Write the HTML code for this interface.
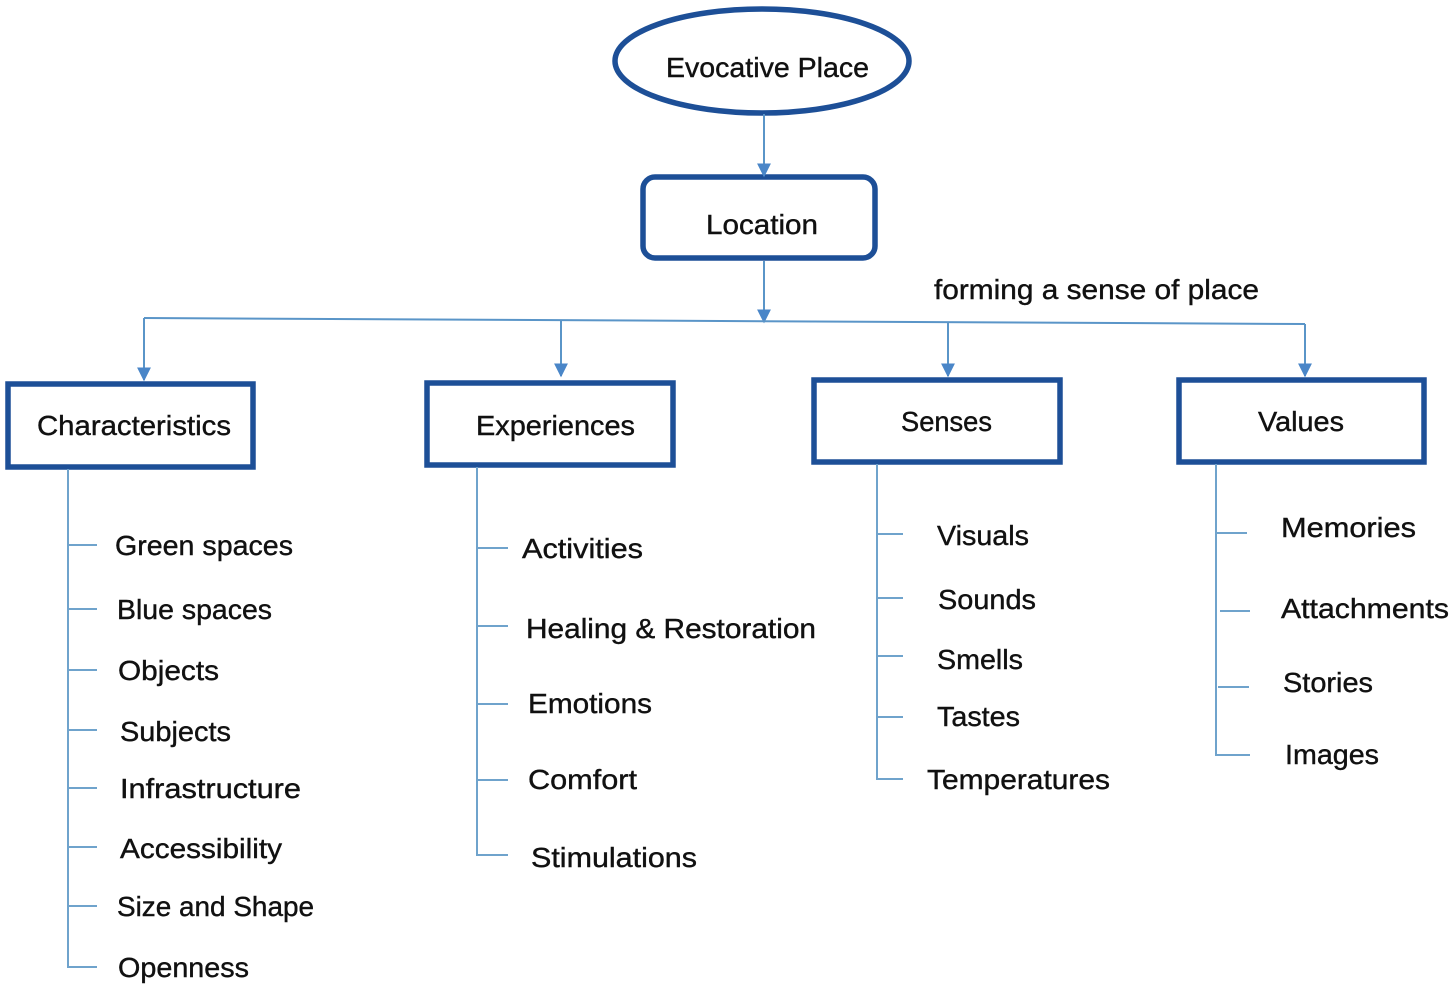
<!DOCTYPE html>
<html><head><meta charset="utf-8"><style>
html,body{margin:0;padding:0;background:#fff;}
svg{display:block;}
text{font-family:"Liberation Sans",sans-serif;font-size:28px;fill:#111;stroke:#111;stroke-width:0.4px;}
</style></head><body>
<svg width="1453" height="989" viewBox="0 0 1453 989" xmlns="http://www.w3.org/2000/svg">
<defs>
<marker id="a" viewBox="0 0 10 10" refX="9" refY="5" markerWidth="14" markerHeight="14" markerUnits="userSpaceOnUse" orient="auto"><path d="M0,0 L10,5 L0,10 z" fill="#4a86c8"/></marker>
</defs>
<g stroke="#1d4f97" stroke-width="5.5" fill="none">
<ellipse cx="762" cy="61" rx="147" ry="52"/>
<rect x="643" y="177" width="232" height="81" rx="12"/>
<rect x="8" y="384" width="245" height="83"/>
<rect x="427" y="383" width="246" height="82"/>
<rect x="814" y="380" width="246" height="82"/>
<rect x="1179" y="380" width="245" height="82"/>
</g>
<g stroke="#5a95c8" stroke-width="2" fill="none">
<line x1="764" y1="114" x2="764" y2="176" marker-end="url(#a)"/>
<line x1="764" y1="261" x2="764" y2="322" marker-end="url(#a)"/>
<polyline points="144,318 1305,324"/>
<line x1="144" y1="318" x2="144" y2="380" marker-end="url(#a)"/>
<line x1="561" y1="320" x2="561" y2="376" marker-end="url(#a)"/>
<line x1="948" y1="322" x2="948" y2="376" marker-end="url(#a)"/>
<line x1="1305" y1="324" x2="1305" y2="376" marker-end="url(#a)"/>
</g>
<g stroke="#6fa3cc" stroke-width="2" fill="none">
<polyline points="68,469 68,967 97,967"/>
<line x1="68" y1="545" x2="97" y2="545"/><line x1="68" y1="609" x2="97" y2="609"/>
<line x1="68" y1="670" x2="97" y2="670"/><line x1="68" y1="730" x2="97" y2="730"/>
<line x1="68" y1="788" x2="97" y2="788"/><line x1="68" y1="847" x2="97" y2="847"/>
<line x1="68" y1="906" x2="97" y2="906"/>
<polyline points="477,467 477,855 508,855"/>
<line x1="477" y1="548" x2="508" y2="548"/><line x1="477" y1="626" x2="508" y2="626"/>
<line x1="477" y1="704" x2="508" y2="704"/><line x1="477" y1="780" x2="508" y2="780"/>
<polyline points="877,464 877,779 903,779"/>
<line x1="877" y1="534" x2="903" y2="534"/><line x1="877" y1="598" x2="903" y2="598"/>
<line x1="877" y1="656" x2="903" y2="656"/><line x1="877" y1="717" x2="903" y2="717"/>
<polyline points="1216,464 1216,755 1250,755"/>
<line x1="1216" y1="533" x2="1247" y2="533"/><line x1="1220" y1="611" x2="1250" y2="611"/>
<line x1="1218" y1="687" x2="1249" y2="687"/>
</g>
<g>
<text x="666" y="77" textLength="203" lengthAdjust="spacingAndGlyphs">Evocative Place</text>
<text x="706" y="234" textLength="112" lengthAdjust="spacingAndGlyphs">Location</text>
<text x="934" y="299" textLength="325" lengthAdjust="spacingAndGlyphs">forming a sense of place</text>
<text x="37" y="435" textLength="194" lengthAdjust="spacingAndGlyphs">Characteristics</text>
<text x="476" y="435" textLength="159" lengthAdjust="spacingAndGlyphs">Experiences</text>
<text x="901" y="431" textLength="91" lengthAdjust="spacingAndGlyphs">Senses</text>
<text x="1258" y="431" textLength="86" lengthAdjust="spacingAndGlyphs">Values</text>
<text x="115" y="555" textLength="178" lengthAdjust="spacingAndGlyphs">Green spaces</text>
<text x="117" y="619" textLength="155" lengthAdjust="spacingAndGlyphs">Blue spaces</text>
<text x="118" y="680" textLength="101" lengthAdjust="spacingAndGlyphs">Objects</text>
<text x="120" y="741" textLength="111" lengthAdjust="spacingAndGlyphs">Subjects</text>
<text x="120" y="798" textLength="181" lengthAdjust="spacingAndGlyphs">Infrastructure</text>
<text x="120" y="858" textLength="162" lengthAdjust="spacingAndGlyphs">Accessibility</text>
<text x="117" y="916" textLength="197" lengthAdjust="spacingAndGlyphs">Size and Shape</text>
<text x="118" y="977" textLength="131" lengthAdjust="spacingAndGlyphs">Openness</text>
<text x="522" y="558" textLength="121" lengthAdjust="spacingAndGlyphs">Activities</text>
<text x="526" y="638" textLength="290" lengthAdjust="spacingAndGlyphs">Healing &amp; Restoration</text>
<text x="528" y="713" textLength="124" lengthAdjust="spacingAndGlyphs">Emotions</text>
<text x="528" y="789" textLength="109" lengthAdjust="spacingAndGlyphs">Comfort</text>
<text x="531" y="867" textLength="166" lengthAdjust="spacingAndGlyphs">Stimulations</text>
<text x="937" y="545" textLength="92" lengthAdjust="spacingAndGlyphs">Visuals</text>
<text x="938" y="609" textLength="98" lengthAdjust="spacingAndGlyphs">Sounds</text>
<text x="937" y="669" textLength="86" lengthAdjust="spacingAndGlyphs">Smells</text>
<text x="937" y="726" textLength="83" lengthAdjust="spacingAndGlyphs">Tastes</text>
<text x="927" y="789" textLength="183" lengthAdjust="spacingAndGlyphs">Temperatures</text>
<text x="1281" y="537" textLength="135" lengthAdjust="spacingAndGlyphs">Memories</text>
<text x="1281" y="618" textLength="168" lengthAdjust="spacingAndGlyphs">Attachments</text>
<text x="1283" y="692" textLength="90" lengthAdjust="spacingAndGlyphs">Stories</text>
<text x="1285" y="764" textLength="94" lengthAdjust="spacingAndGlyphs">Images</text>
</g>
</svg>
</body></html>
